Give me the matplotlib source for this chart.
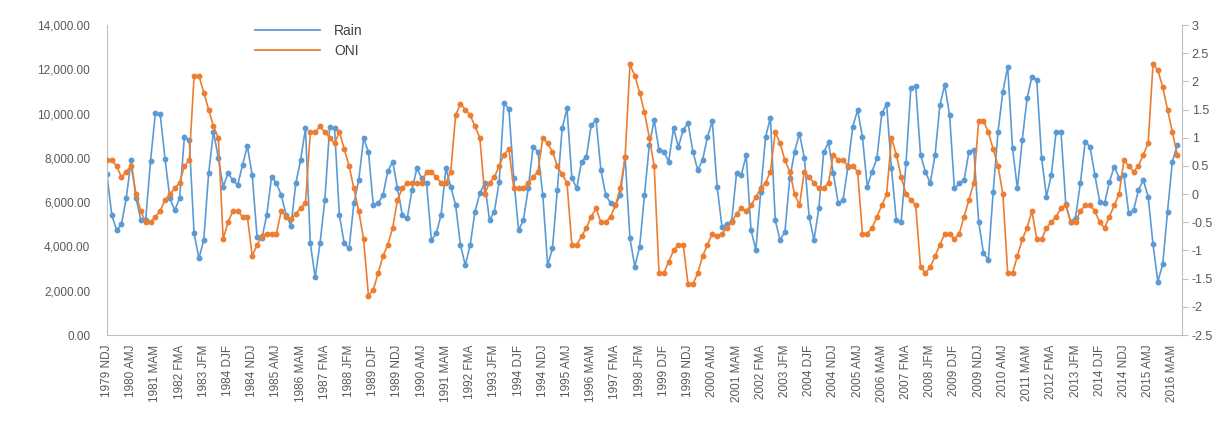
import matplotlib.pyplot as plt
from matplotlib.ticker import FuncFormatter

# one label every 5 seasons (NDJ, DJF, JFM, FMA, MAM, AMJ per year)
tick_labels = ["1979 NDJ", "1980 AMJ", "1981 MAM", "1982 FMA", "1983 JFM", "1984 DJF",
               "1984 NDJ", "1985 AMJ", "1986 MAM", "1987 FMA", "1988 JFM", "1989 DJF",
               "1989 NDJ", "1990 AMJ", "1991 MAM", "1992 FMA", "1993 JFM", "1994 DJF",
               "1994 NDJ", "1995 AMJ", "1996 MAM", "1997 FMA", "1998 JFM", "1999 DJF",
               "1999 NDJ", "2000 AMJ", "2001 MAM", "2002 FMA", "2003 JFM", "2004 DJF",
               "2004 NDJ", "2005 AMJ", "2006 MAM", "2007 FMA", "2008 JFM", "2009 DJF",
               "2009 NDJ", "2010 AMJ", "2011 MAM", "2012 FMA", "2013 JFM", "2014 DJF",
               "2014 NDJ", "2015 AMJ", "2016 MAM"]

rain = [7260, 5420, 4740, 5000, 6200, 7900, 6200, 5190, 5190, 7860,
        10010, 9970, 7950, 6170, 5640, 6170, 8950, 8800, 4590, 3460,
        4290, 7300, 9180, 8000, 6700, 7300, 7000, 6770, 7680, 8530,
        7220, 4440, 4360, 5420, 7150, 6850, 6320, 5420, 4940, 6850,
        7900, 9330, 4140, 2600, 4140, 6100, 9400, 9330, 5420, 4140,
        3910, 5950, 7000, 8880, 8280, 5870, 5950, 6320, 7400, 7830,
        6620, 5420, 5270, 6550, 7530, 7070, 6850, 4290, 4590, 5420,
        7530, 6700, 5870, 4060, 3160, 4060, 5570, 6400, 6850, 5190,
        5570, 6920, 10460, 10200, 7070, 4740, 5190, 6620, 8500, 8280,
        6320, 3160, 3910, 6550, 9330, 10230, 7100, 6620, 7830, 8050,
        9480, 9710, 7450, 6320, 5950, 5870, 6320, 8050, 4360, 3090,
        3990, 6320, 8580, 9710, 8350, 8280, 7830, 9330, 8500, 9260,
        9560, 8280, 7450, 7900, 8950, 9660, 6700, 4890, 5000, 5150,
        7300, 7220, 8130, 4740, 3840, 6470, 8950, 9810, 5190, 4290,
        4660, 7070, 8280, 9100, 8010, 5340, 4290, 5720, 8250, 8700,
        7300, 5950, 6100, 7600, 9400, 10160, 8950, 6700, 7380, 7980,
        10010, 10420, 7530, 5190, 5120, 7750, 11170, 11260, 8130, 7380,
        6850, 8130, 10390, 11290, 9930, 6620, 6850, 7000, 8280, 8350,
        5120, 3690, 3390, 6470, 9180, 10990, 12120, 8430, 6620, 8800,
        10690, 11660, 11510, 7980, 6250, 7220, 9180, 9180, 5900, 5120,
        5300, 6850, 8730, 8500, 7220, 6020, 5950, 6920, 7600, 7100,
        7220, 5490, 5640, 6550, 7000, 6250, 4100, 2410, 3190, 5570,
        7830, 8580]

oni = [0.6,
       0.6, 0.5, 0.3, 0.4, 0.5, 0.0,
       -0.3, -0.5, -0.5, -0.4, -0.3, -0.1,
       0.0, 0.1, 0.2, 0.5, 0.6, 2.1,
       2.1, 1.8, 1.5, 1.2, 1.0, -0.8,
       -0.5, -0.3, -0.3, -0.4, -0.4, -1.1,
       -0.9, -0.75, -0.7, -0.7, -0.7, -0.3,
       -0.4, -0.45, -0.35, -0.25, -0.15, 1.1,
       1.1, 1.2, 1.1, 1.0, 0.9, 1.1,
       0.8, 0.5, 0.1, -0.3, -0.8, -1.8,
       -1.7, -1.4, -1.1, -0.9, -0.6, -0.1,
       0.1, 0.2, 0.2, 0.2, 0.2, 0.4,
       0.4, 0.3, 0.2, 0.2, 0.4, 1.4,
       1.6, 1.5, 1.4, 1.2, 1.0, 0.0,
       0.2, 0.3, 0.5, 0.7, 0.8, 0.1,
       0.1, 0.1, 0.2, 0.3, 0.4, 1.0,
       0.9, 0.75, 0.5, 0.35, 0.2, -0.9,
       -0.9, -0.75, -0.6, -0.4, -0.25, -0.5,
       -0.5, -0.4, -0.2, 0.1, 0.65, 2.3,
       2.1, 1.8, 1.45, 1.0, 0.5, -1.4,
       -1.4, -1.2, -1.0, -0.9, -0.9, -1.6,
       -1.6, -1.4, -1.1, -0.9, -0.7, -0.75,
       -0.7, -0.6, -0.5, -0.35, -0.25, -0.3,
       -0.2, -0.05, 0.1, 0.2, 0.4, 1.1,
       0.9, 0.6, 0.4, 0.0, -0.2, 0.4,
       0.3, 0.2, 0.1, 0.1, 0.2, 0.7,
       0.6, 0.6, 0.5, 0.5, 0.4, -0.7,
       -0.7, -0.6, -0.4, -0.2, 0.0, 1.0,
       0.7, 0.3, 0.0, -0.1, -0.2, -1.3,
       -1.4, -1.3, -1.1, -0.9, -0.7, -0.7,
       -0.8, -0.7, -0.4, -0.1, 0.2, 1.3,
       1.3, 1.1, 0.8, 0.5, 0.0, -1.4,
       -1.4, -1.1, -0.8, -0.6, -0.3, -0.8,
       -0.8, -0.6, -0.5, -0.4, -0.25, -0.2,
       -0.5, -0.5, -0.3, -0.2, -0.2, -0.3,
       -0.5, -0.6, -0.4, -0.2, 0.0, 0.6,
       0.5, 0.4, 0.5, 0.7, 0.9, 2.3,
       2.2, 1.9, 1.5, 1.1, 0.7]

x = list(range(len(rain)))

plt.rcParams['font.family'] = ['Liberation Sans', 'DejaVu Sans']
grey = '#595959'
axis_col = '#BFBFBF'
blue = '#5B9BD5'
orange = '#ED7D31'

fig = plt.figure(figsize=(12.29, 4.26), dpi=100)
ax = fig.add_axes([0.087, 0.2136, 0.8748, 0.7277])
ax2 = ax.twinx()

l1, = ax.plot(x, rain, color=blue, lw=1.2, marker='o', ms=3.2, label='Rain')
l2, = ax2.plot(x, oni, color=orange, lw=1.2, marker='o', ms=3.2, label='ONI')

ax.set_xlim(0, 222)
ax.set_ylim(0, 14000)
ax2.set_ylim(-2.5, 3)

ax.set_yticks(range(0, 14001, 2000))
ax.yaxis.set_major_formatter(FuncFormatter(lambda v, p: f'{v:,.2f}'))
ax2.set_yticks([-2.5 + 0.5 * i for i in range(12)])
ax2.yaxis.set_major_formatter(FuncFormatter(lambda v, p: f'{v:g}'))

ax.set_xticks(x[::5])
ax.set_xticklabels(tick_labels, rotation=90)

ax.tick_params(axis='y', length=0, pad=12, labelsize=8.5, labelcolor=grey)
ax.tick_params(axis='x', length=0, pad=7, labelsize=8.5, labelcolor=grey)
ax2.tick_params(axis='y', length=4, width=0.8, color=axis_col, pad=3,
                labelsize=9, labelcolor=grey)

for s in ['top', 'right']:
    ax.spines[s].set_visible(False)
for s in ['left', 'bottom']:
    ax.spines[s].set_color(axis_col)
for s in ['top', 'left', 'bottom']:
    ax2.spines[s].set_visible(False)
ax2.spines['right'].set_color(axis_col)

leg = ax2.legend([l1, l2], ['Rain', 'ONI'], loc='upper left',
                 bbox_to_anchor=(255 / 1229, 1 - 24 / 426),
                 bbox_transform=fig.transFigure, frameon=False,
                 borderpad=0, borderaxespad=0, handlelength=4.7,
                 handletextpad=1.0, labelspacing=0.45, fontsize=10)
for line in leg.get_lines():
    line.set_marker('')
    line.set_linewidth(1.3)
for t in leg.get_texts():
    t.set_color('#404040')

fig.savefig('out.png', dpi=100)
